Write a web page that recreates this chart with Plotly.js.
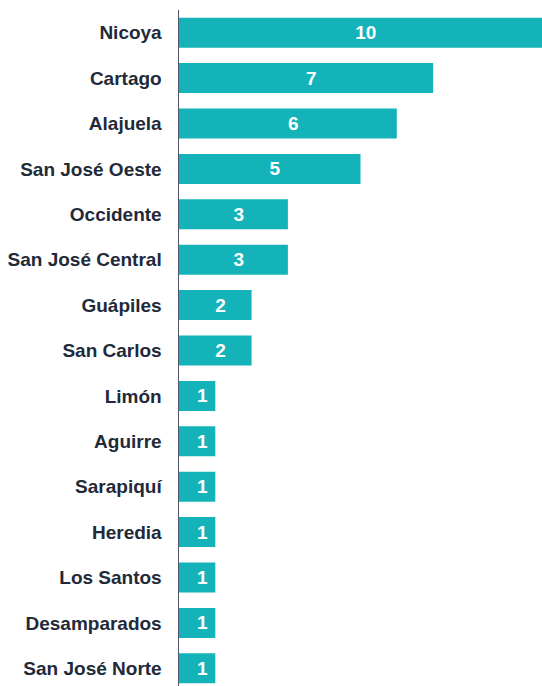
<!DOCTYPE html>
<html>
<head>
<meta charset="utf-8">
<script src="https://cdn.plot.ly/plotly-3.0.1.min.js"></script>
<style>html,body{margin:0;padding:0;background:#fff;}#chart{width:542px;height:686px;}</style>
</head>
<body>
<div id="chart"></div>
<script>
var categories = ["Nicoya","Cartago","Alajuela","San José Oeste","Occidente","San José Central","Guápiles","San Carlos","Limón","Aguirre","Sarapiquí","Heredia","Los Santos","Desamparados","San José Norte"];
var values = [10,7,6,5,3,3,2,2,1,1,1,1,1,1,1];

var trace = {
  type: 'bar',
  orientation: 'h',
  y: categories,
  x: values,
  marker: {color: '#13b3b9', line: {width: 0}},
  text: values.map(function(v){ return '\u00a0\u00a0' + v; }),
  textposition: 'inside',
  insidetextanchor: 'middle',
  constraintext: 'none',
  textangle: 0,
  insidetextfont: {family: 'Liberation Sans, Arial, sans-serif', size: 19, color: '#ffffff', weight: 700},
  hoverinfo: 'none',
  cliponaxis: false
};

var layout = {
  width: 542,
  height: 686,
  margin: {l: 179, r: 0, t: 10, b: 0},
  bargap: 0.34,
  paper_bgcolor: '#ffffff',
  plot_bgcolor: '#ffffff',
  showlegend: false,
  xaxis: {range: [0, 10], showgrid: false, zeroline: false, showticklabels: false, showline: false, ticks: ''},
  yaxis: {
    type: 'category',
    categoryorder: 'array',
    categoryarray: categories,
    range: [14.39, -0.5],
    showline: true,
    linecolor: '#4f5665',
    linewidth: 1.5,
    showgrid: false,
    zeroline: false,
    ticks: '',
    ticklabelstandoff: 12,
    tickfont: {family: 'Liberation Sans, Arial, sans-serif', size: 19, color: '#222a39', weight: 700}
  }
};

Plotly.newPlot('chart', [trace], layout, {displayModeBar: false, staticPlot: true});
</script>
</body>
</html>
